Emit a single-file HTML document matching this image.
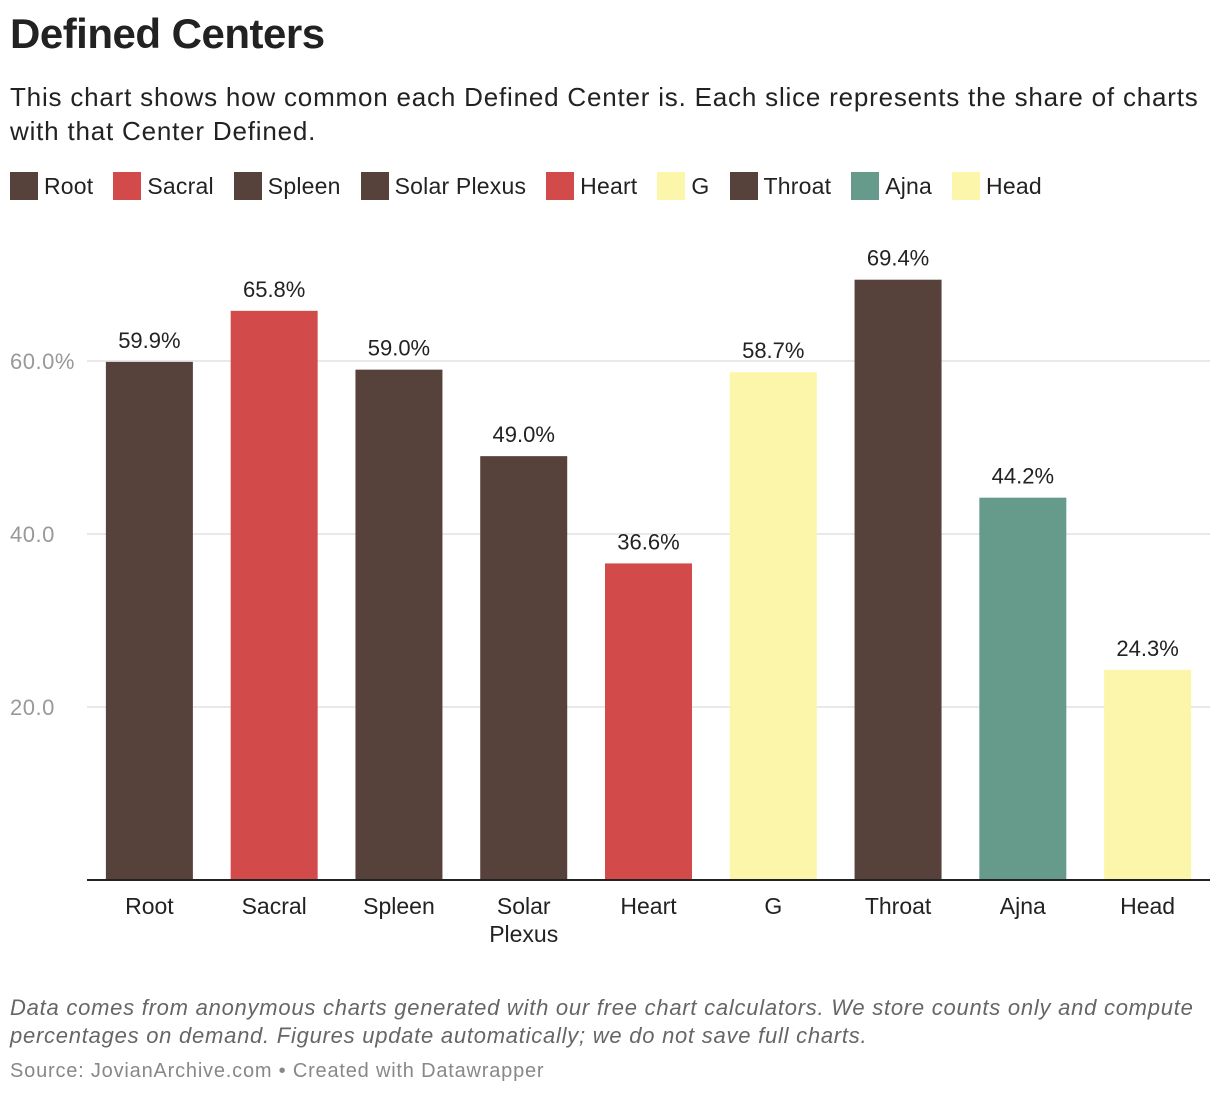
<!DOCTYPE html>
<html><head><meta charset="utf-8"><style>
body{margin:0;width:1220px;height:1096px;background:#fff;font-family:"Liberation Sans",sans-serif;color:#222;overflow:hidden}
h1{position:absolute;left:10px;top:10px;margin:0;font-size:42px;font-weight:bold;letter-spacing:-0.5px}
.desc{position:absolute;left:10px;top:80px;font-size:26px;line-height:34px;width:1210px;color:#222;letter-spacing:0.8px}
.legend{position:absolute;left:10px;top:172px;font-size:23px;display:flex;letter-spacing:0.2px}
.li{display:flex;align-items:center;margin-right:20px}
.sw{width:28px;height:28px;margin-right:6px}
.note{position:absolute;left:10px;top:994px;font-size:22px;font-style:italic;color:#666;line-height:28px;width:1205px;letter-spacing:0.75px}
.src{position:absolute;left:10px;top:1060px;font-size:20px;color:#888;letter-spacing:0.8px}
</style></head><body>
<h1>Defined Centers</h1>
<div class="desc">This chart shows how common each Defined Center is. Each slice represents the share of charts with that Center Defined.</div>
<div class="legend" id="legend"></div>
<svg id="chart" width="1220" height="1096" style="position:absolute;left:0;top:0"></svg>
<div class="note">Data comes from anonymous charts generated with our free chart calculators. We store counts only and compute percentages on demand. Figures update automatically; we do not save full charts.</div>
<div class="src">Source: JovianArchive.com • Created with Datawrapper</div>
<script>
const categories=["Root","Sacral","Spleen","Solar Plexus","Heart","G","Throat","Ajna","Head"];
const values=[59.9,65.8,59.0,49.0,36.6,58.7,69.4,44.2,24.3];
const colorKeys=["b","r","b","b","r","y","b","g","y"];
const ticks=[20,40,60];
const tickLabels=["20.0","40.0","60.0%"];
const pal={b:"#57413b",r:"#d34a4b",y:"#fbf6aa",g:"#669b8c"};
const NS="http://www.w3.org/2000/svg";
const svg=document.getElementById('chart');
const x0=87,x1=1210,base=880,scale=8.65;
const band=(x1-x0)/categories.length,bw=87;
const y=v=>base-v*scale;
const xc=i=>x0+band*(i+0.5);
function mk(t,a){const e=document.createElementNS(NS,t);for(const k in a)e.setAttribute(k,a[k]);svg.appendChild(e);return e;}
ticks.forEach((t,i)=>{
 const l=mk('line',{x1:87,x2:1210,y1:y(t),y2:y(t),stroke:'#e2e2e2','stroke-width':1.5});
 
 
 const tx=mk('text',{x:10,y:y(t)+8,'font-size':22,fill:'#999','font-family':'Liberation Sans','letter-spacing':0.5});
 tx.textContent=tickLabels[i];
 
 
});
categories.forEach((c,i)=>{
 const r=mk('rect',{x:xc(i)-bw/2,y:y(values[i]),width:bw,height:values[i]*scale,fill:pal[colorKeys[i]]});
 
 
 const v=mk('text',{x:xc(i),y:y(values[i])-14,'text-anchor':'middle','font-size':22,fill:'#222','font-family':'Liberation Sans'});
 v.textContent=values[i].toFixed(1)+'%';
 
 
 const words=c.split(' ');
 words.forEach((w,j)=>{
  const t=mk('text',{x:xc(i),y:914+j*28,'text-anchor':'middle','font-size':23,fill:'#222','font-family':'Liberation Sans'});
  t.textContent=w;
  
  
 });
 const lg=document.getElementById('legend');
 const li=document.createElement('div');li.className='li';
 
 
 li.innerHTML='<div class="sw" style="background:'+pal[colorKeys[i]]+'"></div>'+c;
 lg.appendChild(li);
});
const ax=mk('line',{x1:x0,x2:x1,y1:base,y2:base,stroke:'#222','stroke-width':2});


</script>
</body></html>
